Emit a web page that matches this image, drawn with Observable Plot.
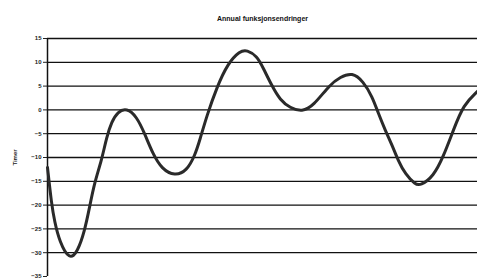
<!DOCTYPE html>
<html>
<head>
<meta charset="utf-8">
<script src="https://cdn.jsdelivr.net/npm/d3@7"></script>
<script src="https://cdn.jsdelivr.net/npm/@observablehq/plot@0.6"></script>
<style>
  html, body { margin: 0; padding: 0; background: #fff; }
</style>
</head>
<body>
<div id="chart"></div>
<script>
const title = "Annual funksjonsendringer";
const yLabel = "Timer";
const yTicks = [15, 10, 5, 0, -5, -10, -15, -20, -25, -30, -35];
const xs = [0, 4, 7, 12, 22, 30, 37, 42, 47, 54, 59, 64, 70, 79, 89, 97, 105, 114, 127, 139, 147, 152, 159, 169, 180, 192, 199, 209, 215, 224, 232, 242, 254, 265, 282, 292, 304, 315, 324, 330, 337, 344, 350, 357, 367, 372, 385, 395, 405, 415, 429];
const ys = [-12.1, -19.7, -23.4, -27.7, -31.6, -29.8, -25.5, -20.4, -15.2, -10.6, -5.7, -2.5, -0.4, 0.4, -1.4, -5, -9.2, -12.4, -13.9, -12.8, -9.6, -6.3, -1.2, 4.8, 9.8, 12.4, 12.6, 11.3, 8.9, 5, 2.1, 0.4, -0.4, 0.8, 5.4, 6.9, 7.9, 6, 2.8, -0.7, -4.3, -7.5, -10.7, -13.5, -15.7, -15.9, -14, -9.8, -4.2, 1.1, 3.9];
const data = xs.map((x, i) => ({x, y: ys[i]}));

const chart = Plot.plot({
  width: 477,
  height: 278,
  marginLeft: 47,
  marginRight: 0,
  marginTop: 38,
  marginBottom: 2,
  style: {fontFamily: "Liberation Sans, Arial, sans-serif", fontSize: "6px", fontWeight: "bold", color: "#222", background: "#fff"},
  x: {domain: [0, 429], axis: null},
  y: {domain: [-35, 15], ticks: yTicks, label: yLabel, labelAnchor: "center", labelOffset: 35, labelArrow: "none", tickSize: 4, tickPadding: 2},
  marks: [
    Plot.ruleY(yTicks.filter(t => t > -35), {stroke: "#111", strokeWidth: 1.3}),
    Plot.ruleX([0], {stroke: "#111", strokeWidth: 1.5}),
    Plot.line(data, {x: "x", y: "y", curve: "basis", stroke: "#2a2a2a", strokeWidth: 3}),
    Plot.text([title], {frameAnchor: "top", dy: -22, fontSize: 7, fontWeight: "bold", fill: "#111"})
  ]
});
document.getElementById("chart").appendChild(chart);
</script>
</body>
</html>
